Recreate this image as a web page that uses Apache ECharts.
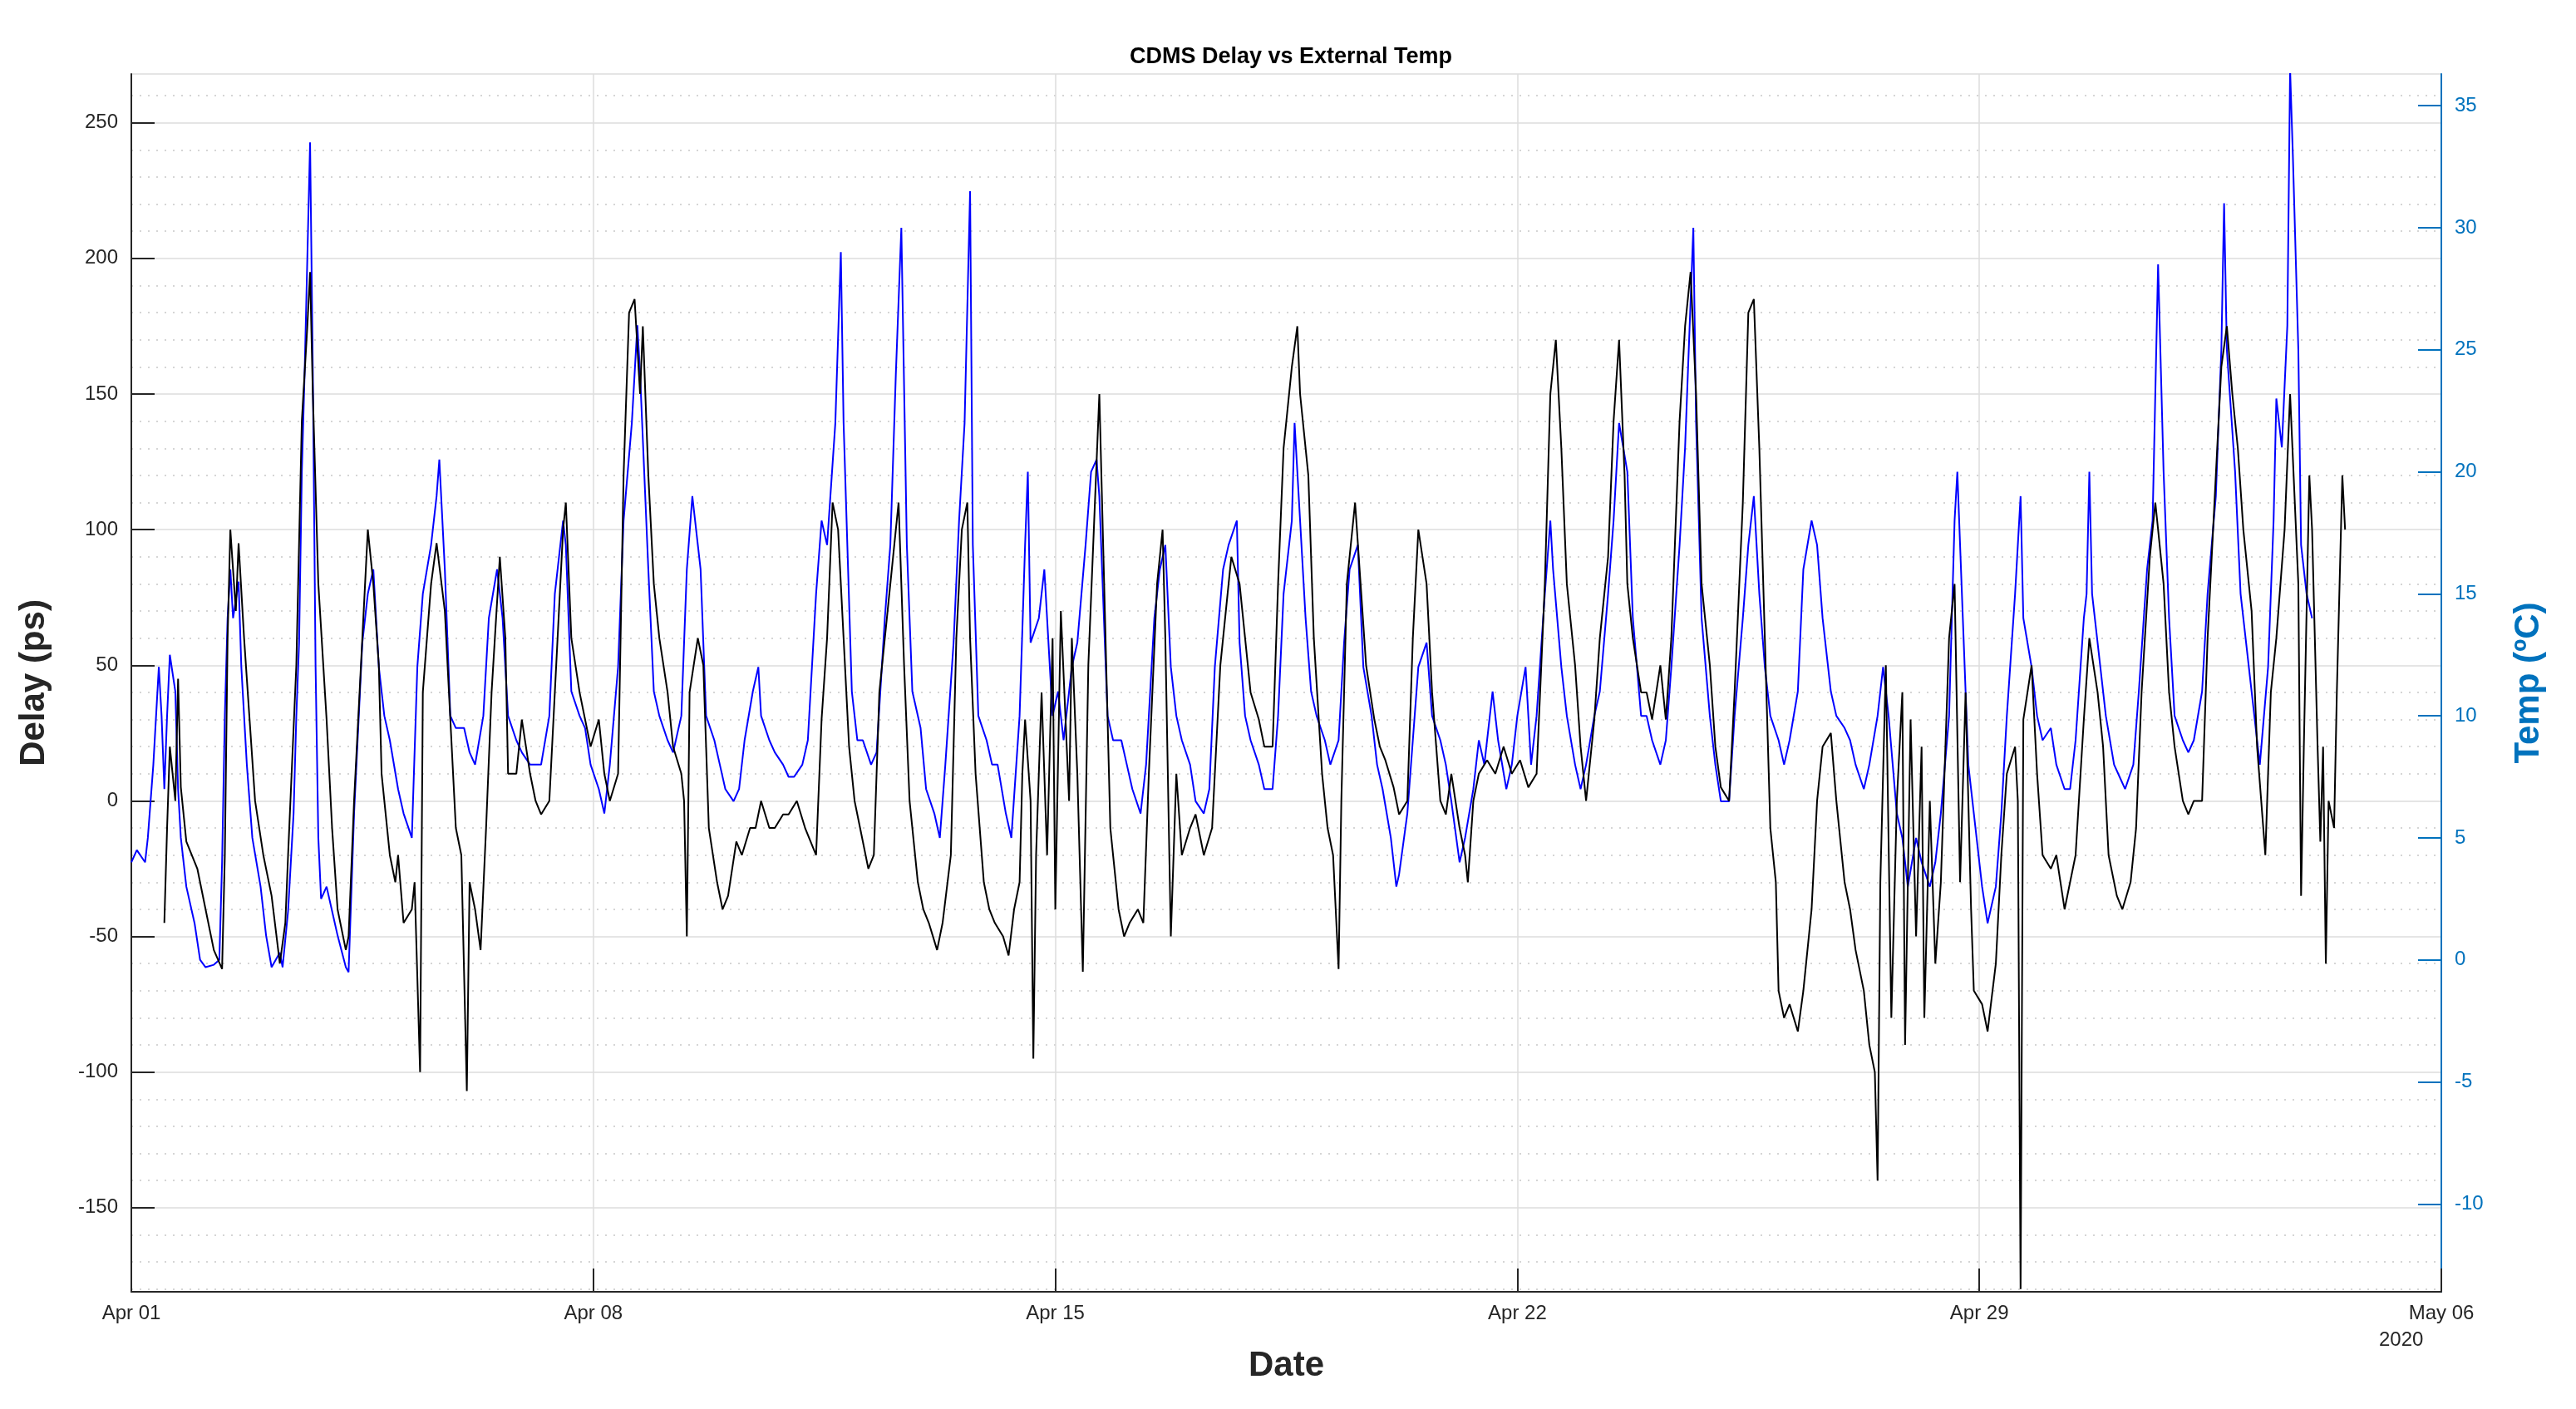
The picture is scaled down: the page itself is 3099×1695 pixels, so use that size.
<!DOCTYPE html>
<html>
<head>
<meta charset="utf-8">
<script src="https://cdn.jsdelivr.net/npm/echarts@6/dist/echarts.min.js"></script>
<style>html,body{margin:0;padding:0;background:#fff}#chart{width:3099px;height:1695px}</style>
</head>
<body>
<div id="chart"></div>
<script>
// hours since Apr 01 2020 00:00
var delayHours = [12,13,14,16,17,18,20,24,27,30,33,34,35,36,38,39,41,43,45,48,51,54,56,57,60,62,64,65,66,68,71,73,75,78,79,81,84,86,88,90,91,94,96,97,99,102,103,105,106,109,111,114,116,118,120,122,123,125,127,129,131,134,136,137,140,142,145,147,149,152,154,157,158,160,163,165,167,170,172,174,177,179,181,183,185,186,188,190,192,195,197,200,201,202,203,206,208,210,213,215,217,220,222,225,227,229,232,234,237,239,242,245,249,251,253,255,257,259,261,263,265,268,270,272,275,277,279,281,283,286,288,290,293,295,298,300,302,304,305,307,310,312,314,317,319,321,323,324,325,327,328,329,331,333,335,336,338,341,342,344,346,348,350,352,354,356,359,361,363,366,368,370,373,375,376,378,380,382,385,387,390,393,396,398,400,403,405,407,410,412,415,417,419,422,424,425,428,430,433,435,437,439,440,442,445,447,449,452,454,456,459,461,464,466,468,471,473,476,478,480,483,485,486,488,490,493,496,499,502,505,508,511,514,516,518,520,522,525,527,529,532,534,537,539,541,543,544,546,549,551,553,556,558,560,563,565,567,569,571,574,576,578,581,583,586,588,590,592,594,596,598,599,601,603,606,608,611,613,615,618,620,623,625,627,630,632,634,635,636,638,640,642,644,645,647,649,651,652,654,656,658,660,661,663,665,667,669,670,673,675,678,680,682,685,686,687,688,691,693,695,698,700,703,705,707,710,712,715,717,719,722,724,727,729,731,734,736,739,741,743,746,748,750,753,755,758,760,762,764,766,768,771,773,776,778,780,783,785,788,789,790,792,793,795,796,797,798,799,801,802,804,805];
var delayValues = [-45,-10,20,0,45,5,-15,-25,-40,-55,-62,-20,60,100,70,95,60,30,0,-20,-35,-60,-45,-20,50,140,175,195,150,80,30,-10,-40,-55,-50,0,60,100,80,50,10,-20,-30,-20,-45,-40,-30,-100,40,80,95,70,30,-10,-20,-107,-30,-40,-55,-10,40,90,60,10,10,30,10,0,-5,0,40,100,110,60,40,30,20,30,10,0,10,120,180,185,150,175,120,80,60,40,20,10,0,-50,40,60,50,-10,-30,-40,-35,-15,-20,-10,-10,0,-10,-10,-5,-5,0,-10,-20,30,60,110,100,60,20,0,-10,-25,-20,40,70,90,110,50,0,-30,-40,-45,-55,-45,-20,60,100,110,60,10,-30,-40,-45,-50,-57,-40,-30,10,30,0,-95,-20,40,-20,60,-40,70,0,60,10,-63,50,100,150,70,-10,-40,-50,-45,-40,-45,10,80,100,60,-50,10,-20,-10,-5,-20,-10,50,70,90,80,60,40,30,20,20,80,130,160,175,150,120,60,10,-10,-20,-62,0,80,110,80,50,30,20,15,5,-5,0,60,100,80,40,0,-5,10,-10,-20,-30,0,10,15,10,20,10,15,5,10,80,150,170,130,80,50,20,0,30,60,90,140,170,120,80,60,40,40,30,50,30,60,140,175,195,150,80,50,20,5,0,40,110,180,185,130,60,-10,-30,-70,-80,-75,-85,-70,-40,0,20,25,0,-30,-40,-55,-70,-90,-100,-140,-30,50,-80,0,40,-90,30,-50,20,-80,0,-60,-30,30,60,80,-30,40,-40,-70,-75,-85,-60,-20,10,20,0,-180,30,50,10,-20,-25,-20,-40,-30,-20,30,60,40,20,-20,-35,-40,-30,-10,40,90,110,80,40,20,0,-5,0,0,60,120,160,175,150,130,100,70,20,-20,40,60,100,150,80,-35,20,120,100,20,-15,20,-60,0,-10,40,120,100];
var tempHours = [0,2,5,6,8,10,11,12,13,14,16,17,18,20,23,25,27,30,32,33,34,35,36,37,39,40,42,44,47,49,51,54,55,57,59,60,61,62,63,65,66,67,68,69,71,73,75,78,79,81,84,86,88,90,92,94,97,99,102,104,106,109,111,112,114,116,118,121,123,125,128,130,133,135,137,140,142,145,147,149,152,154,157,158,160,163,165,167,170,172,174,177,179,182,184,185,188,190,192,195,197,200,202,204,207,209,212,214,216,219,221,223,226,228,229,232,234,237,239,241,244,246,249,251,253,256,258,259,262,264,266,269,271,274,276,278,280,282,284,287,289,292,294,296,299,301,303,305,306,308,311,313,315,318,320,323,325,326,327,330,332,335,337,339,342,344,347,349,351,352,355,357,360,362,364,367,369,372,374,376,378,380,382,385,387,390,392,394,397,399,402,403,405,407,410,412,415,417,419,422,423,425,427,429,431,434,436,439,441,443,446,448,451,453,455,458,460,461,464,466,468,471,473,476,478,480,483,485,488,490,492,495,497,500,502,504,507,509,511,514,516,517,520,522,525,527,529,532,534,537,539,541,544,546,549,551,553,556,558,560,563,565,568,569,571,574,576,578,581,583,586,588,590,592,594,596,599,601,603,606,608,611,613,615,618,620,623,625,627,630,632,635,637,639,642,644,646,649,651,654,656,658,661,663,664,666,668,670,673,675,678,680,682,685,687,688,691,693,695,698,700,703,705,707,710,711,712,713,716,718,721,723,725,728,730,733,735,737,739,741,743,746,748,750,753,755,758,760,761,762,765,767,770,772,774,777,779,780,782,784,785,786,788,789,791,793];
var tempValues = [4,4.5,4,5,8,12,10,7,10,12.5,11,7,5,3,1.5,0,-0.3,-0.2,0,4,10,14,16,14,15.5,12,8,5,3,1,-0.3,0.3,-0.3,2,6,10,13,20,24,33.5,24,12,5,2.5,3,2,1,-0.3,-0.5,6,13,15,16,12,10,9,7,6,5,12,15,17,19,20.5,16,10,9.5,9.5,8.5,8,10,14,16,14,10,9,8.5,8,8,8,10,15,18,17,11,10,9.5,8,7,6,8,12,18,22,26,24,16,11,10,9,8.5,10,16,19,16,10,9,8,7,6.5,7,9,11,12,10,9,8.5,8,7.5,7.5,8,9,15,18,17,22,29,22,11,9,9,8,8.5,14,17,24,30,17,11,9.5,7,6,5,8,13,18,22,31.5,17,10,9,8,8,6,5,10,17,20,13,14,16,10,11,9,12,13,17,20,20.5,19,10,9,9,8,7,6,8,14,16,17,12,10,9,8,6.5,6,7,12,16,17,18,13,10,9,8,7,7,10,15,18,22,18,14,11,10,9,8,9,13,16,17,12,10,8,7,5,3,3.5,6,9,12,13,10,9,8,6.5,4,5,7,9,8,11,9,7,8,10,12,8,10,15,18,16,12,10,8,7,8,10,11,15,18,22,20,14,10,10,9,8,9,12,17,21,30,22,14,10,8,6.5,6.5,10,14,17,19,15,12,10,9,8,9,11,16,18,17,14,11,10,9.5,9,8,7,8,10,12,10,6,5,3,5,4,3,4,6,10,18,20,14,8,6,3,1.5,3,6,10,15,19,14,12,10,9,9.5,8,7,7,9,14,15,20,15,12,10,8,7.5,7,8,11,16,18,28.5,20,14,10,9,8.5,9,11,15,19,25,31,25,20,15,12,10,8,12,18,23,21,26,36.5,33,25,17,15,14];
var dayLabels = ['Apr 01','Apr 08','Apr 15','Apr 22','Apr 29','May 06'];
var tempTicks = [-10,-5,0,5,10,15,20,25,30,35];

var delayData = delayHours.map(function (h, i) { return [h, delayValues[i]]; });
var tempData = tempHours.map(function (h, i) { return [h, tempValues[i]]; });

var myChart = echarts.init(document.getElementById('chart'));
var tickFont = {fontFamily: 'Liberation Sans', fontSize: 24};
myChart.setOption({
    animation: false,
    backgroundColor: '#fff',
    title: {
        text: 'CDMS Delay vs External Temp',
        left: 1548, top: 50, textAlign: 'center',
        textStyle: {fontFamily: 'Liberation Sans', fontSize: 27, fontWeight: 'bold', color: '#000'}
    },
    grid: {left: 158, right: 162, top: 89, bottom: 141},
    graphic: [{
        type: 'text', left: 2862, top: 1600,
        style: {text: '2020', font: '24px "Liberation Sans"', fill: '#262626'}
    }],
    xAxis: {
        type: 'value', min: 0, max: 840, interval: 168,
        name: 'Date', nameLocation: 'middle', nameGap: 68,
        nameTextStyle: {fontFamily: 'Liberation Sans', fontSize: 42, fontWeight: 'bold', color: '#262626'},
        axisLine: {onZero: false, lineStyle: {color: '#262626', width: 2}},
        axisTick: {inside: true, length: 28, lineStyle: {color: '#262626', width: 2}},
        axisLabel: Object.assign({color: '#262626', margin: 14, formatter: function (v) { return dayLabels[v / 168]; }}, tickFont),
        splitLine: {show: true, lineStyle: {color: '#dcdcdc', width: 1.5}}
    },
    yAxis: [{
        type: 'value', min: -181, max: 268, splitNumber: 9,
        name: 'Delay (ps)', nameLocation: 'middle', nameGap: 96,
        nameTextStyle: {fontFamily: 'Liberation Sans', fontSize: 42, fontWeight: 'bold', color: '#262626'},
        axisLine: {show: true, onZero: false, lineStyle: {color: '#262626', width: 2}},
        axisTick: {inside: true, length: 28, lineStyle: {color: '#262626', width: 2}},
        axisLabel: Object.assign({color: '#262626', margin: 16, showMinLabel: false, showMaxLabel: false}, tickFont),
        splitLine: {show: true, lineStyle: {color: '#dcdcdc', width: 1.5}},
        minorTick: {show: false, splitNumber: 5},
        minorSplitLine: {show: true, lineStyle: {color: '#c8c8c8', type: [2, 8], width: 1.5}}
    }, {
        type: 'value', min: -13.6, max: 36.3, position: 'right',
        name: 'Temp (ºC)', nameLocation: 'middle', nameGap: 84,
        nameTextStyle: {fontFamily: 'Liberation Sans', fontSize: 42, fontWeight: 'bold', color: '#0072BD'},
        axisLine: {show: true, onZero: false, lineStyle: {color: '#0072BD', width: 2}},
        axisTick: {inside: true, length: 28, customValues: tempTicks, lineStyle: {color: '#0072BD', width: 2}},
        axisLabel: Object.assign({color: '#0072BD', margin: 16, customValues: tempTicks}, tickFont),
        splitLine: {show: false}
    }],
    series: [{
        name: 'Delay', type: 'line', yAxisIndex: 0, data: delayData,
        showSymbol: false, lineStyle: {color: '#000', width: 2}, z: 3
    }, {
        name: 'Temp', type: 'line', yAxisIndex: 1, data: tempData,
        showSymbol: false, lineStyle: {color: '#0000ff', width: 2}, z: 2
    }]
});
</script>
</body>
</html>
